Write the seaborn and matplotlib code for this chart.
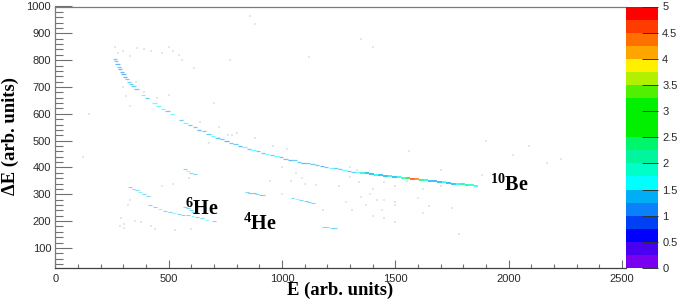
import matplotlib
matplotlib.use("Agg")
import matplotlib.pyplot as plt
from matplotlib.colors import ListedColormap
from matplotlib.colors import BoundaryNorm
from matplotlib.ticker import MultipleLocator
import numpy as np
import pandas as pd
import seaborn as sns

# ---- data ----
main_E = [263,268,274,280,286,293,300,308,316,325,335,345,358,372,388,404,420,438,456,476,495,515,535,555,575,595,615,635,655,675,695,715,735,755,775,795,815,835,855,875,895,915,935,955,975,995,1015,1035,1055,1075,1095,1115,1135,1155,1175,1195,1215,1235,1255,1275,1295,1315,1335,1355,1375,1395,1415,1435,1455,1475,1495,1515,1535,1555,1575,1595,1615,1635,1655,1675,1695,1715,1735,1755,1775,1795,1815,1835,1855]
main_dE = [806,795,785,776,768,757,748,738,729,719,710,702,692,682,671,660,648,639,630,619,609,598,588,577,567,558,549,541,534,526,518,511,505,498,492,486,481,475,470,465,460,455,451,446,442,437,433,429,426,422,418,415,412,408,405,402,399,396,393,390,387,384,382,380,378,375,373,371,369,367,365,363,361,359,357,356,354,352,350,348,346,344,342,340,339,337,335,333,331]
main_val = [1.4,1.4,1.2,1.4,1.1,1.1,1.1,1.1,1.3,1.3,1.3,1.4,1.4,0.0,1.6,1.4,0.0,1.6,1.6,1.6,1.4,1.6,0.0,1.4,1.6,1.3,1.3,1.1,1.3,1.4,1.6,1.4,1.4,1.1,1.4,1.4,1.1,1.6,1.4,1.6,1.4,1.4,1.6,1.4,1.6,1.4,1.4,1.1,1.4,1.4,1.1,1.4,1.4,1.4,1.1,1.4,1.6,1.4,1.4,1.6,1.4,1.4,1.6,1.9,1.4,1.4,1.9,1.4,1.4,1.9,1.4,1.9,1.9,3.1,4.6,4.3,2.4,1.9,1.4,1.4,1.4,1.6,1.4,1.4,1.6,2.1,2.1,1.9,1.6]

side_E = [330,345,360,375,390,410,418,440,462,484,505,525,545,565,585,605,623,645,670,698,572,585,600,616,572,585,597,607,845,860,875,890,905,918,1046,1065,1085,1105,1120,1138,1183,1200,1220,1235]
side_dE = [327,320,314,307,301,294,260,252,245,238,233,229,226,223,221,218,216,210,205,201,394,388,381,375,252,247,241,234,308,306,304,302,299,297,286,282,278,274,271,268,178,177,176,175]
side_val = [1.4,1.4,1.4,1.6,1.4,1.4,1.4,1.4,1.6,1.4,1.4,1.6,1.4,1.4,1.4,1.6,1.4,1.4,1.6,1.4,1.4,1.6,1.4,1.4,1.4,1.4,1.4,1.4,1.3,1.1,1.1,1.3,1.3,1.4,1.4,1.6,1.4,1.4,1.4,1.4,1.4,1.4,1.4,1.4]

noise_E = [262,275,300,330,360,390,420,470,500,520,545,610,700,860,880,770,1120,1350,1400,1560,1700,1880,2090,2170,1020,1000,945,1900,2020,720,780,880,960,1040,1100,1150,1250,1300,1340,1400,1450,1500,1550,1620,1700,1350,1370,1420,1450,1500,1600,1650,1750,1280,1310,300,310,330,355,390,450,500,560,640,680,720,760,800,1000,1060,1090,1300,1330,1390,1440,285,305,440,530,600,350,380,420,320,330,470,520,590,290,305,1180,1400,1450,1500,150,120,1780,2230,1620,1500]
noise_dE = [850,825,835,815,845,840,835,825,850,835,820,770,640,965,935,800,810,880,850,460,390,370,480,415,470,300,350,500,445,550,520,510,480,350,340,335,330,365,345,320,345,330,350,320,330,290,260,280,280,270,285,255,250,270,240,700,665,630,720,680,660,670,800,570,490,510,520,530,400,380,360,400,390,300,240,180,175,170,165,170,200,195,180,260,280,330,340,360,210,190,240,220,210,195,600,440,150,430,230,260]

tick_vals = [0, 0.5, 1, 1.5, 2, 2.5, 3, 3.5, 4, 4.5, 5]
tick_labels = ["0", "0.5", "1", "1.5", "2", "2.5", "3", "3.5", "4", "4.5", "5"]
level_colors = ["#7a00f0", "#4a00f0", "#0000ff", "#0040f5", "#0a80fa", "#00aef5",
                "#00ffff", "#00ffc8", "#00f59c", "#00f56a", "#00f000", "#00f000",
                "#00f000", "#50f000", "#b0f000", "#fff000", "#ffa500", "#ff7000", "#ff3c00", "#ff0000"]

FW, FH = 678, 301
X0, X1, YT, YB = 55.3, 626, 6.5, 268

sns.set_theme(style="white")
plt.rcParams["font.family"] = ["Liberation Sans", "DejaVu Sans"]
plt.rcParams["mathtext.fontset"] = "custom"
plt.rcParams["mathtext.bf"] = "Liberation Serif:bold"
plt.rcParams["mathtext.rm"] = "Liberation Serif:bold"

fig = plt.figure(figsize=(FW / 100, FH / 100), dpi=100)
ax = fig.add_axes([X0 / FW, 1 - YB / FH, (X1 - X0) / FW, (YB - YT) / FH])
cax = fig.add_axes([X1 / FW, 1 - YB / FH, 32 / FW, (YB - YT) / FH])

cmap = ListedColormap(level_colors)
norm = BoundaryNorm(np.arange(0, 5.01, 0.25), cmap.N)

noise = pd.DataFrame({"E": noise_E, "dE": noise_dE})
sns.scatterplot(data=noise, x="E", y="dE", ax=ax, color="#c8d0d4", s=2, marker="s",
                linewidth=0, alpha=0.5, legend=False)
side = pd.DataFrame({"E": side_E, "dE": side_dE, "v": side_val})
sns.scatterplot(data=side, x="E", y="dE", hue="v", palette=cmap, hue_norm=norm, ax=ax,
                marker="_", s=8, linewidth=0.8, alpha=0.5, legend=False)
main = pd.DataFrame({"E": main_E, "dE": main_dE, "v": main_val})
main = main[main["v"] > 0]
upper = main[main["E"] < 1340]
lower = main[main["E"] >= 1340]
sns.scatterplot(data=upper, x="E", y="dE", hue="v", palette=cmap, hue_norm=norm, ax=ax,
                marker="_", s=10, linewidth=0.9, alpha=0.6, legend=False)
sns.scatterplot(data=lower, x="E", y="dE", hue="v", palette=cmap, hue_norm=norm, ax=ax,
                marker="_", s=11, linewidth=1.2, alpha=0.9, legend=False)

ax.set_xlim(0, 2517)
ax.set_ylim(25, 1000)
ax.set_xlabel("")
ax.set_ylabel("")
ax.set_xticks([0, 500, 1000, 1500, 2000, 2500])
ax.set_yticks(range(100, 1001, 100))
ax.xaxis.set_minor_locator(MultipleLocator(100))
ax.yaxis.set_minor_locator(MultipleLocator(20))
ax.tick_params(axis="both", which="both", direction="in", color="#707070", width=0.8,
               labelcolor="#2a2a2a", labelsize=8, bottom=True, left=True)
ax.tick_params(axis="x", which="major", length=6, pad=4)
ax.tick_params(axis="x", which="minor", length=3)
ax.tick_params(axis="y", which="major", length=12, pad=3)
ax.tick_params(axis="y", which="minor", length=6)
for name, sp in ax.spines.items():
    sp.set_visible(name != "right")
    sp.set_color("#7a7a7a")
    sp.set_linewidth(0.9)
ax.spines["bottom"].set_color("#404040")

# colour scale drawn as a one-column heatmap of the 20 levels
level_index = np.arange(len(level_colors)).reshape(-1, 1)
sns.heatmap(level_index, cmap=cmap, cbar=False, ax=cax, xticklabels=False, yticklabels=False,
            vmin=-0.5, vmax=len(level_colors) - 0.5)
cax.set_ylim(0, len(level_colors))
cax.yaxis.tick_right()
cax.set_yticks([v * 4 for v in tick_vals])
cax.set_yticklabels(tick_labels, rotation=0)
cax.set_axisbelow(False)
cax.tick_params(axis="y", which="major", direction="in", length=11.5, width=0.7, color="#333333",
                labelcolor="#2a2a2a", labelsize=8, pad=3, right=True, left=False)
for sp in cax.spines.values():
    sp.set_visible(False)

iso = dict(fontsize=14.5, color="black", va="baseline", ha="left")
ax.text(572, 223, r"$\mathbf{^{6}He}$", **iso)
ax.text(829, 167, r"$\mathbf{^{4}He}$", **iso)
ax.text(1917, 313, r"$\mathbf{^{10}Be}$", **iso)

serif = dict(fontfamily="Liberation Serif", fontweight="bold", fontsize=13.4, color="black")
fig.text(340.5 / FW, 1 - 290.5 / FH, "E (arb. units)", ha="center", va="center", **serif)
fig.text(10.5 / FW, 1 - 136 / FH, "ΔE (arb. units)", ha="center", va="center", rotation=90, **serif)

fig.savefig("out.png", dpi=100, facecolor="white")
